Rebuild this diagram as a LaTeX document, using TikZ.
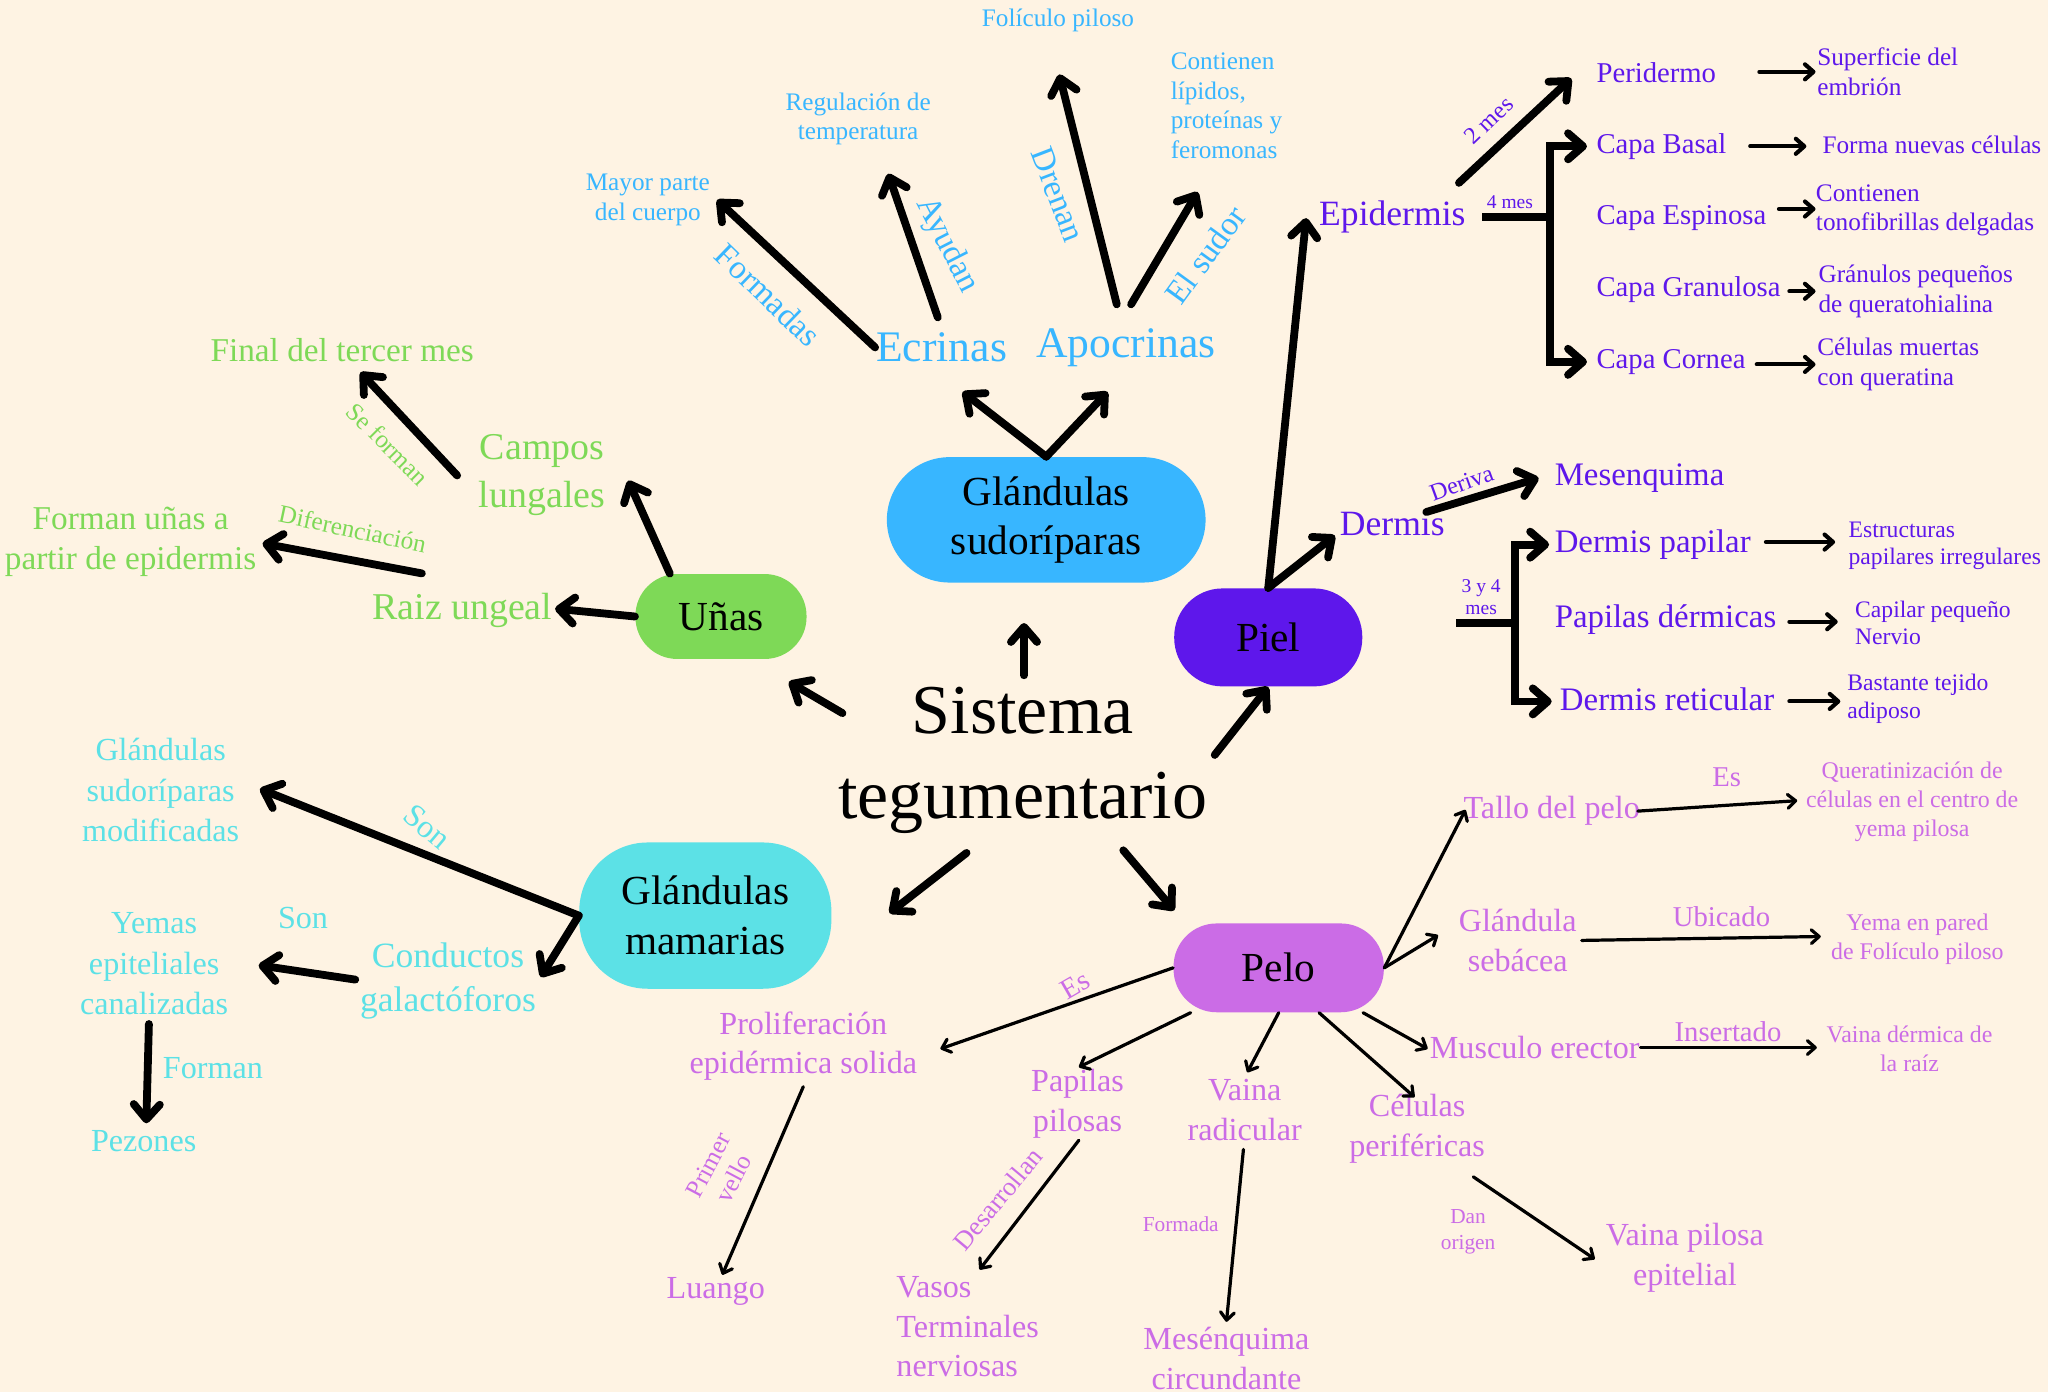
\documentclass[tikz,border=0pt]{standalone}
\usepackage{fontspec}
\setmainfont{Liberation Serif}
\usetikzlibrary{arrows.meta}
\definecolor{bgcream}{HTML}{FEF3E3}
\definecolor{sudblue}{HTML}{38B6FF}
\definecolor{pielviolet}{HTML}{5E17EB}
\definecolor{unasgreen}{HTML}{7ED957}
\definecolor{mamcyan}{HTML}{5CE1E6}
\definecolor{pelopink}{HTML}{CB6CE6}
\newcommand{\sz}[2]{\fontsize{#1pt}{#2pt}\selectfont}
\tikzset{
  blob/.style={rectangle, rounded corners=#1, inner sep=0pt, align=center, font=\sz{18}{21.6}},
  bigarrow/.style={line width=3.4pt, line cap=round, line join=round, -{Straight Barb[round, length=2.3mm, width=4mm]}},
  bracketarrow/.style={line width=3.4pt, line join=miter, -{Straight Barb[round, length=2.3mm, width=4mm]}},
  midarrow/.style={line width=1.8pt, line cap=round, -{Straight Barb[round, length=1.3mm, width=2.3mm]}},
  thinarrow/.style={line width=1.4pt, line cap=round, -{Straight Barb[round, length=1.2mm, width=2.1mm]}},
  lefttxt/.style={anchor=west, align=left, inner xsep=0pt},
  title/.style={align=center, font=\sz{30.5}{37}},
  ecrtxt/.style={text=sudblue, font=\sz{19}{23}},
  bluetxt/.style={text=sudblue, font=\sz{11}{13}, align=center},
  bluelab/.style={text=sudblue, font=\sz{14.5}{17}},
  greenhead/.style={text=unasgreen, font=\sz{16.5}{21}, align=center},
  greentxt/.style={text=unasgreen, font=\sz{14.5}{17.6}, align=center},
  greenlab/.style={text=unasgreen, font=\sz{11}{13}},
  violhead/.style={text=pielviolet, font=\sz{15.5}{18}},
  capatxt/.style={text=pielviolet, font=\sz{12.5}{15}, lefttxt},
  capadesc/.style={text=pielviolet, font=\sz{11}{13}, lefttxt},
  dermtxt/.style={text=pielviolet, font=\sz{14.3}{17}, lefttxt},
  dermdesc/.style={text=pielviolet, font=\sz{10.3}{12}, lefttxt},
  violsm/.style={text=pielviolet, font=\sz{8.5}{9.7}, align=center},
  viollab/.style={text=pielviolet, font=\sz{10.5}{12}},
  cyantxt/.style={text=mamcyan, font=\sz{14}{17.6}, align=center},
  cyanbig/.style={text=mamcyan, font=\sz{15.5}{19.3}, align=center},
  pinktxt/.style={text=pelopink, font=\sz{14}{17.2}, align=center},
  pinkdesc/.style={text=pelopink, font=\sz{10.4}{12.6}, align=center},
  pinklab/.style={text=pelopink, font=\sz{12.5}{14}},
  pinksm/.style={text=pelopink, font=\sz{9.3}{11.4}, align=center}
}
\begin{document}
\begin{tikzpicture}[x=0.2mm,y=-0.2mm]
\fill[bgcream] (0,0) rectangle (1568,1066);
\useasboundingbox (0,0) rectangle (1568,1066);

% centre and main groups
\node[title] (sis) at (783,582) {Sistema\\tegumentario};
\node[blob=9.6mm, fill=sudblue, minimum width=48.8mm, minimum height=19.2mm] (sud) at (801,398) {Glándulas\\sudoríparas};
\node[blob=6.4mm, fill=unasgreen, minimum width=26.2mm, minimum height=13mm] (unas) at (552,472) {Uñas};
\node[blob=7.4mm, fill=pielviolet, minimum width=28.8mm, minimum height=15mm] (piel) at (971,488) {Piel};
\node[blob=10.5mm, fill=mamcyan, minimum width=38.6mm, minimum height=22.4mm] (mam) at (540,701) {Glándulas\\mamarias};
\node[blob=6.6mm, fill=pelopink, minimum width=32.2mm, minimum height=13.6mm] (pelo) at (979,741) {Pelo};

\coordinate (sis-up) at (784,517);
\coordinate (sud-in) at (784,477);
\coordinate (sis-ul) at (645,546);
\coordinate (unas-in) at (604,522);
\coordinate (sis-ur) at (930,578);
\coordinate (sis-dl) at (740,653);
\coordinate (mam-in) at (681,699);
\coordinate (sis-dr) at (860,651);
\coordinate (pelo-in) at (899,697);
\draw[bigarrow] (sis-up) -- (sud-in);
\draw[bigarrow] (sis-ul) -- (unas-in);
\draw[bigarrow] (sis-ur) -- (piel.south);
\draw[bigarrow] (sis-dl) -- (mam-in);
\draw[bigarrow] (sis-dr) -- (pelo-in);

% glandulas sudoriparas
\node[ecrtxt] (ecr) at (721,266) {Ecrinas};
\node[ecrtxt] (apo) at (862,266) {Apocrinas};
\node[bluetxt] (may) at (496,153) {Mayor parte\\del cuerpo};
\node[bluetxt] (reg) at (657,91) {Regulación de\\temperatura};
\node[bluetxt] (fol) at (810,16) {Folículo piloso};
\node[bluetxt, lefttxt] (lip) at (896,81) {Contienen\\lípidos,\\proteínas y\\feromonas};
\coordinate (ecr-in) at (737,300);
\coordinate (apo-in) at (848,300);
\coordinate (ecr-a) at (670,266);
\coordinate (may-in) at (549,153);
\coordinate (ecr-b) at (718,243);
\coordinate (reg-in) at (680,133);
\coordinate (apo-a) at (855,233);
\coordinate (fol-in) at (811,57);
\coordinate (apo-b) at (866,233);
\coordinate (lip-in) at (917,147);
\draw[bigarrow] (sud.north) -- (ecr-in);
\draw[bigarrow] (sud.north) -- (apo-in);
\draw[bigarrow] (ecr-a) -- (may-in);
\draw[bigarrow] (ecr-b) -- (reg-in);
\draw[bigarrow] (apo-a) -- (fol-in);
\draw[bigarrow] (apo-b) -- (lip-in);
\node[bluelab, rotate=-44] (l-form) at (588,226) {Formadas};
\node[bluelab, rotate=-63] (l-ayu) at (725,188) {Ayudan};
\node[bluelab, rotate=-69] (l-dre) at (810,149) {Drenan};
\node[bluelab, rotate=54] (l-sud) at (923,195) {El sudor};

% unas
\node[greenhead] (cam) at (415,364) {Campos\\lungales};
\node[greenhead] (rai) at (354,467) {Raiz ungeal};
\node[greentxt] (fin) at (262,268) {Final del tercer mes};
\node[greentxt] (for) at (100,415) {Forman uñas a\\partir de epidermis};
\coordinate (cam-in) at (481,368);
\coordinate (rai-in) at (425,466);
\coordinate (cam-a) at (350,364);
\coordinate (fin-in) at (276,285);
\coordinate (rai-a) at (323,439);
\coordinate (for-in) at (201,416);
\draw[bigarrow] (unas.140) -- (cam-in);
\draw[bigarrow] (unas.west) -- (rai-in);
\draw[bigarrow] (cam-a) -- (fin-in);
\draw[bigarrow] (rai-a) -- (for-in);
\node[greenlab, rotate=-45] (l-sef) at (297,340) {Se forman};
\node[greenlab, rotate=-12] (l-dif) at (270,405) {Diferenciación};

% piel
\node[violhead] (epi) at (1066,166) {Epidermis};
\node[violhead] (der) at (1066,401) {Dermis};
\coordinate (epi-in) at (1000,167);
\coordinate (der-in) at (1022,410);
\draw[bigarrow] (piel.north) -- (epi-in);
\draw[bigarrow] (piel.north) -- (der-in);

\node[capatxt] (per) at (1222,56) {Peridermo};
\node[capatxt] (bas) at (1222,112) {Capa Basal};
\node[capatxt] (esp) at (1222,167) {Capa Espinosa};
\node[capatxt] (gra) at (1222,222) {Capa Granulosa};
\node[capatxt] (cor) at (1222,277) {Capa Cornea};
\coordinate (epi-a) at (1117,140);
\coordinate (per-in) at (1203,60);
\coordinate (epi-b) at (1135,166);
\coordinate (epi-br) at (1187,166);
\coordinate (bas-in) at (1215,112);
\coordinate (cor-in) at (1215,277);
\draw[bigarrow] (epi-a) -- (per-in);
\draw[line width=3.4pt] (epi-b) -- (epi-br);
\draw[bracketarrow] (epi-br) |- (bas-in);
\draw[bracketarrow] (epi-br) |- (cor-in);
\node[viollab, rotate=44] (l-2m) at (1140,92) {2 mes};
\node[violsm] (l-4m) at (1156,155) {4 mes};

\node[capadesc] (sup) at (1391,55) {Superficie del\\embrión};
\node[capadesc] (fnc) at (1395,111) {Forma nuevas células};
\node[capadesc] (ton) at (1390,161) {Contienen\\tonofibrillas delgadas};
\node[capadesc] (gru) at (1392,223) {Gránulos pequeños\\de queratohialina};
\node[capadesc] (cel) at (1391,279) {Células muertas\\con queratina};
\coordinate (per-a) at (1347,55);
\coordinate (sup-in) at (1390,55);
\coordinate (bas-a) at (1340,112);
\coordinate (fnc-in) at (1383,112);
\coordinate (esp-a) at (1362,160);
\coordinate (ton-in) at (1390,160);
\coordinate (gra-a) at (1370,223);
\coordinate (gru-in) at (1390,223);
\coordinate (cor-a) at (1345,279);
\coordinate (cel-in) at (1390,279);
\draw[midarrow] (per-a) -- (sup-in);
\draw[midarrow] (bas-a) -- (fnc-in);
\draw[midarrow] (esp-a) -- (ton-in);
\draw[midarrow] (gra-a) -- (gru-in);
\draw[midarrow] (cor-a) -- (cel-in);

\node[dermtxt] (mes) at (1190,366) {Mesenquima};
\node[dermtxt] (dpa) at (1190,417) {Dermis papilar};
\node[dermtxt] (dde) at (1190,474) {Papilas dérmicas};
\node[dermtxt] (dre) at (1194,535) {Dermis reticular};
\coordinate (der-a) at (1092,392);
\coordinate (mes-in) at (1178,366);
\coordinate (der-b) at (1115,477);
\coordinate (der-br) at (1160,477);
\coordinate (dpa-in) at (1186,417);
\coordinate (dre-in) at (1188,537);
\draw[bigarrow] (der-a) -- (mes-in);
\draw[line width=3.4pt] (der-b) -- (der-br);
\draw[bracketarrow] (der-br) |- (dpa-in);
\draw[bracketarrow] (der-br) |- (dre-in);
\node[viollab, rotate=20] (l-der) at (1119,370) {Deriva};
\node[violsm] (l-34) at (1134,457) {3 y 4\\mes};

\node[dermdesc] (est) at (1415,418) {Estructuras\\papilares irregulares};
\node[dermdesc] (capi) at (1420,477) {Capilar pequeño\\Nervio};
\node[dermdesc] (bat) at (1414,535) {Bastante tejido\\adiposo};
\coordinate (dpa-a) at (1352,415);
\coordinate (est-in) at (1405,415);
\coordinate (dde-a) at (1370,476);
\coordinate (capi-in) at (1407,476);
\coordinate (dre-a) at (1370,537);
\coordinate (bat-in) at (1409,537);
\draw[midarrow] (dpa-a) -- (est-in);
\draw[midarrow] (dde-a) -- (capi-in);
\draw[midarrow] (dre-a) -- (bat-in);

% glandulas mamarias
\node[cyantxt] (gsm) at (123,605) {Glándulas\\sudoríparas\\modificadas};
\node[cyanbig] (con) at (343,751) {Conductos\\galactóforos};
\node[cyantxt] (yem) at (118,738) {Yemas\\epiteliales\\canalizadas};
\node[cyantxt] (pez) at (110,874) {Pezones};
\coordinate (gsm-in) at (199,604);
\coordinate (con-in) at (414,748);
\coordinate (con-a) at (272,750);
\coordinate (yem-in) at (198,739);
\coordinate (yem-a) at (114,784);
\coordinate (pez-in) at (112,860);
\draw[bigarrow] (mam.west) -- (gsm-in);
\draw[bigarrow] (mam.west) -- (con-in);
\draw[bigarrow] (con-a) -- (yem-in);
\draw[bigarrow] (yem-a) -- (pez-in);
\node[cyantxt, rotate=-40] (l-son1) at (327,633) {Son};
\node[cyantxt] (l-son2) at (232,703) {Son};
\node[cyantxt] (l-forman) at (163,818) {Forman};

% pelo
\node[pinktxt] (tal) at (1188,621) {Tallo del pelo};
\node[pinkdesc] (qua) at (1464,614) {Queratinización de\\células en el centro de\\yema pilosa};
\node[pinktxt] (seb) at (1162,720) {Glándula\\sebácea};
\node[pinkdesc] (yep) at (1468,719) {Yema en pared\\de Folículo piloso};
\node[pinktxt] (mus) at (1175,802) {Musculo erector};
\node[pinkdesc] (vdr) at (1462,803) {Vaina dérmica de\\la raíz};
\node[pinktxt] (cpe) at (1085,864) {Células\\periféricas};
\node[pinktxt] (vpe) at (1290,963) {Vaina pilosa\\epitelial};
\node[pinktxt] (vra) at (953,850) {Vaina\\radicular};
\node[pinktxt] (mcir) at (939,1040) {Mesénquima\\circundante};
\node[pinktxt] (ppi) at (825,845) {Papilas\\pilosas};
\node[pinktxt, lefttxt] (vas) at (686,1016) {Vasos\\Terminales\\nerviosas};
\node[pinktxt] (pro) at (615,801) {Proliferación\\epidérmica solida};
\node[pinktxt] (lua) at (548,989) {Luango};

\coordinate (tal-in) at (1122,620);
\coordinate (seb-in) at (1101,716);
\coordinate (mus-in) at (1093,803);
\coordinate (cpe-in) at (1083,840);
\coordinate (vra-in) at (955,821);
\coordinate (ppi-in) at (826,817);
\coordinate (pro-in) at (720,803);
\draw[thinarrow] (pelo.east) -- (tal-in);
\draw[thinarrow] (pelo.east) -- (seb-in);
\draw[thinarrow] (pelo.-28) -- (mus-in);
\draw[thinarrow] (pelo.-48) -- (cpe-in);
\draw[thinarrow] (pelo.south) -- (vra-in);
\draw[thinarrow] (pelo.-153) -- (ppi-in);
\draw[thinarrow] (pelo.west) -- (pro-in);

\coordinate (tal-a) at (1254,621);
\coordinate (qua-in) at (1376,613);
\coordinate (seb-a) at (1211,720);
\coordinate (yep-in) at (1394,717);
\coordinate (mus-a) at (1256,802);
\coordinate (vdr-in) at (1391,802);
\coordinate (cpe-a) at (1128,901);
\coordinate (vpe-in) at (1221,964);
\coordinate (vra-a) at (952,880);
\coordinate (mcir-in) at (939,1012);
\coordinate (ppi-a) at (826,873);
\coordinate (vas-in) at (750,972);
\coordinate (pro-a) at (615,832);
\coordinate (lua-in) at (553,976);
\draw[thinarrow] (tal-a) -- (qua-in);
\draw[thinarrow] (seb-a) -- (yep-in);
\draw[thinarrow] (mus-a) -- (vdr-in);
\draw[thinarrow] (cpe-a) -- (vpe-in);
\draw[thinarrow] (vra-a) -- (mcir-in);
\draw[thinarrow] (ppi-a) -- (vas-in);
\draw[thinarrow] (pro-a) -- (lua-in);

\node[pinklab] (l-es1) at (1322,595) {Es};
\node[pinklab] (l-ubi) at (1318,702) {Ubicado};
\node[pinklab] (l-ins) at (1323,790) {Insertado};
\node[pinklab, rotate=30] (l-es2) at (823,754) {Es};
\node[pinksm] (l-dan) at (1124,943) {Dan\\origen};
\node[pinksm] (l-fda) at (904,937) {Formada};
\node[pinklab, font=\sz{11.5}{13}, rotate=50] (l-des) at (764,918) {Desarrollan};
\node[pinklab, font=\sz{11}{12.5}, align=center, rotate=62] (l-pri) at (552,897) {Primer\\vello};
\end{tikzpicture}
\end{document}
